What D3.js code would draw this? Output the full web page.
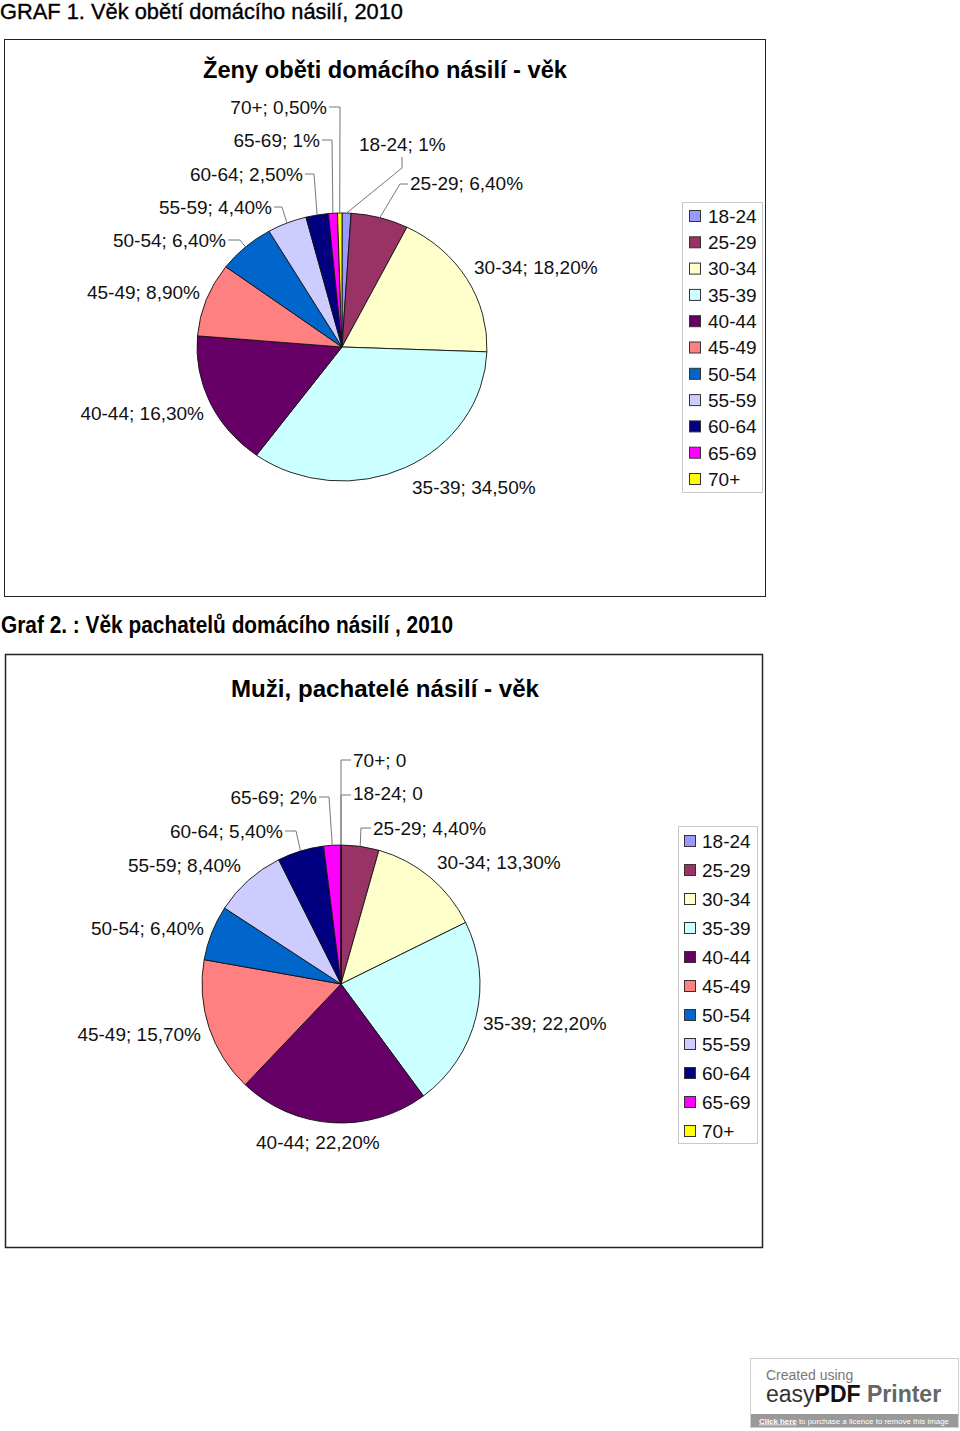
<!DOCTYPE html>
<html><head><meta charset="utf-8">
<script src="https://cdn.jsdelivr.net/npm/d3@7/dist/d3.min.js"></script>
<style>body{margin:0;background:#fff}svg{display:block}text{font-family:"Liberation Sans",Arial,sans-serif}</style>
</head><body>
<script>
// ---- data ----
const categories = ["18-24","25-29","30-34","35-39","40-44","45-49","50-54","55-59","60-64","65-69","70+"];
const victimsValues = [1, 6.4, 18.2, 34.5, 16.3, 8.9, 6.4, 4.4, 2.5, 1, 0.5];
const victimsLabels = ["18-24; 1%","25-29; 6,40%","30-34; 18,20%","35-39; 34,50%","40-44; 16,30%","45-49; 8,90%","50-54; 6,40%","55-59; 4,40%","60-64; 2,50%","65-69; 1%","70+; 0,50%"];
const offendersValues = [0, 4.4, 13.3, 22.2, 22.2, 15.7, 6.4, 8.4, 5.4, 2, 0];
const offendersLabels = ["18-24; 0","25-29; 4,40%","30-34; 13,30%","35-39; 22,20%","40-44; 22,20%","45-49; 15,70%","50-54; 6,40%","55-59; 8,40%","60-64; 5,40%","65-69; 2%","70+; 0"];
const colors = ["#9999FF","#993366","#FFFFCC","#CCFFFF","#660066","#FF8080","#0066CC","#CCCCFF","#000080","#FF00FF","#FFFF00"];

// ---- layout (not data) ----
const chart1 = {frame:[4,39,761,557], cx:342, cy:347, rx:145, ry:134,
  legend:{x:682,y:202,w:80,h:290,first:216,step:26.3,sq:689,tx:708},
  labels:[["start",359,144],["start",410,183],["start",474,267],["start",412,487],["end",204,413],["end",200,292],["end",226,240],["end",272,207],["end",303,174],["end",320,140],["end",327,107]],
  leaders:{0:[[402,157],[402,168]],1:[[408,184],[400,184]],6:[[228,240],[240,240]],7:[[274,207],[282,207]],8:[[305,174],[314,174]],9:[[322,140],[332,140]],10:[[329,107],[340,107]]}
};
const chart2 = {frame:[5,654,757,593], cx:341, cy:984, rx:139, ry:139,
  legend:{x:678,y:826,w:79,h:317,first:841,step:29,sq:684,tx:702},
  labels:[["start",353,793],["start",373,828],["start",437,862],["start",483,1023],["start",256,1142],["end",201,1034],["end",204,928],["end",241,865],["end",283,831],["end",317,797],["start",353,760]],
  leaders:{0:[[351,795],[341,795]],1:[[371,828],[361,828]],8:[[285,831],[296,831]],9:[[319,797],[329,797]],10:[[351,760],[341,760]]}
};

const svg = d3.select("body").append("svg").attr("width",960).attr("height",1431);

svg.append("text").attr("x",0).attr("y",19).attr("font-size",22).attr("stroke","#000").attr("stroke-width",0.35)
  .attr("textLength",403).attr("lengthAdjust","spacingAndGlyphs")
  .text("GRAF 1. Věk obětí domácího násilí, 2010");
svg.append("text").attr("x",1).attr("y",633).attr("font-size",23).attr("font-weight","bold")
  .attr("textLength",452).attr("lengthAdjust","spacingAndGlyphs")
  .text("Graf 2. : Věk pachatelů domácího násilí , 2010");

function drawChart(cfg, values, labels, title, titleOpts){
  const g = svg.append("g");
  const [fx,fy,fw,fh] = cfg.frame;
  g.append("rect").attr("x",fx+0.5).attr("y",fy+0.5).attr("width",fw).attr("height",fh)
    .attr("fill","#fff").attr("stroke","#222").attr("stroke-width",titleOpts.frameW);
  const t = g.append("text").attr("x",titleOpts.x).attr("y",titleOpts.y).attr("font-size",titleOpts.size)
    .attr("font-weight","bold").text(title);
  if (titleOpts.len) t.attr("textLength",titleOpts.len).attr("lengthAdjust","spacingAndGlyphs");

  const pie = d3.pie().sort(null).value(d=>d)(values);
  const arc = d3.arc().innerRadius(0).outerRadius(cfg.rx);
  const pg = g.append("g").attr("transform",`translate(${cfg.cx},${cfg.cy}) scale(1,${cfg.ry/cfg.rx})`);
  pg.selectAll("path").data(pie).join("path")
    .attr("d",arc).attr("fill",(d,i)=>colors[i])
    .attr("stroke","#111").attr("stroke-width",0.9).attr("vector-effect","non-scaling-stroke");

  const line = d3.line();
  Object.entries(cfg.leaders).forEach(([k,pts])=>{
    const d = pie[+k];
    const a = (d.startAngle+d.endAngle)/2;
    const end = [cfg.cx + cfg.rx*Math.sin(a), cfg.cy - cfg.ry*Math.cos(a)];
    g.append("path").attr("d",line([...pts,end])).attr("fill","none")
      .attr("stroke","#777").attr("stroke-width",1);
  });

  labels.forEach((s,i)=>{
    const [anc,x,y] = cfg.labels[i];
    g.append("text").attr("x",x).attr("y",y+6.8).attr("font-size",19)
      .attr("text-anchor",anc).attr("fill","#111").text(s);
  });

  const L = cfg.legend;
  g.append("rect").attr("x",L.x+0.5).attr("y",L.y+0.5).attr("width",L.w).attr("height",L.h)
    .attr("fill","#fff").attr("stroke","#c8c8c8");
  const items = g.selectAll("g.li").data(categories).join("g").attr("class","li")
    .attr("transform",(d,i)=>`translate(0,${L.first+i*L.step})`);
  items.append("rect").attr("x",L.sq+0.5).attr("y",-5.5).attr("width",11).attr("height",11)
    .attr("fill",(d,i)=>colors[i]).attr("stroke","#333").attr("stroke-width",1);
  items.append("text").attr("x",L.tx).attr("y",6.8).attr("font-size",19).attr("fill","#111").text(d=>d);
}

drawChart(chart1, victimsValues, victimsLabels, "Ženy oběti domácího násilí - věk", {x:203,y:78,size:23.5,len:364,frameW:1});
drawChart(chart2, offendersValues, offendersLabels, "Muži, pachatelé násilí - věk", {x:231,y:697,size:24,len:308,frameW:1.5});

// watermark
const w = svg.append("g");
w.append("rect").attr("x",750.5).attr("y",1358.5).attr("width",208).attr("height",69)
  .attr("fill","#fff").attr("stroke","#cfcfcf");
w.append("text").attr("x",766).attr("y",1380).attr("font-size",14).attr("fill","#777").text("Created using");
const wt = w.append("text").attr("x",766).attr("y",1402).attr("font-size",23);
wt.append("tspan").attr("fill","#333").text("easy");
wt.append("tspan").attr("fill","#111").attr("font-weight","bold").text("PDF");
wt.append("tspan").attr("fill","#666").attr("font-weight","bold").text(" Printer");
w.append("rect").attr("x",751).attr("y",1414).attr("width",207).attr("height",13).attr("fill","#9a9a9a");
const ct = w.append("text").attr("x",759).attr("y",1423.5).attr("font-size",7.9).attr("fill","#fff");
ct.append("tspan").attr("font-weight","bold").attr("text-decoration","underline").text("Click here");
ct.append("tspan").text(" to purchase a licence to remove this image");
</script>
</body></html>
